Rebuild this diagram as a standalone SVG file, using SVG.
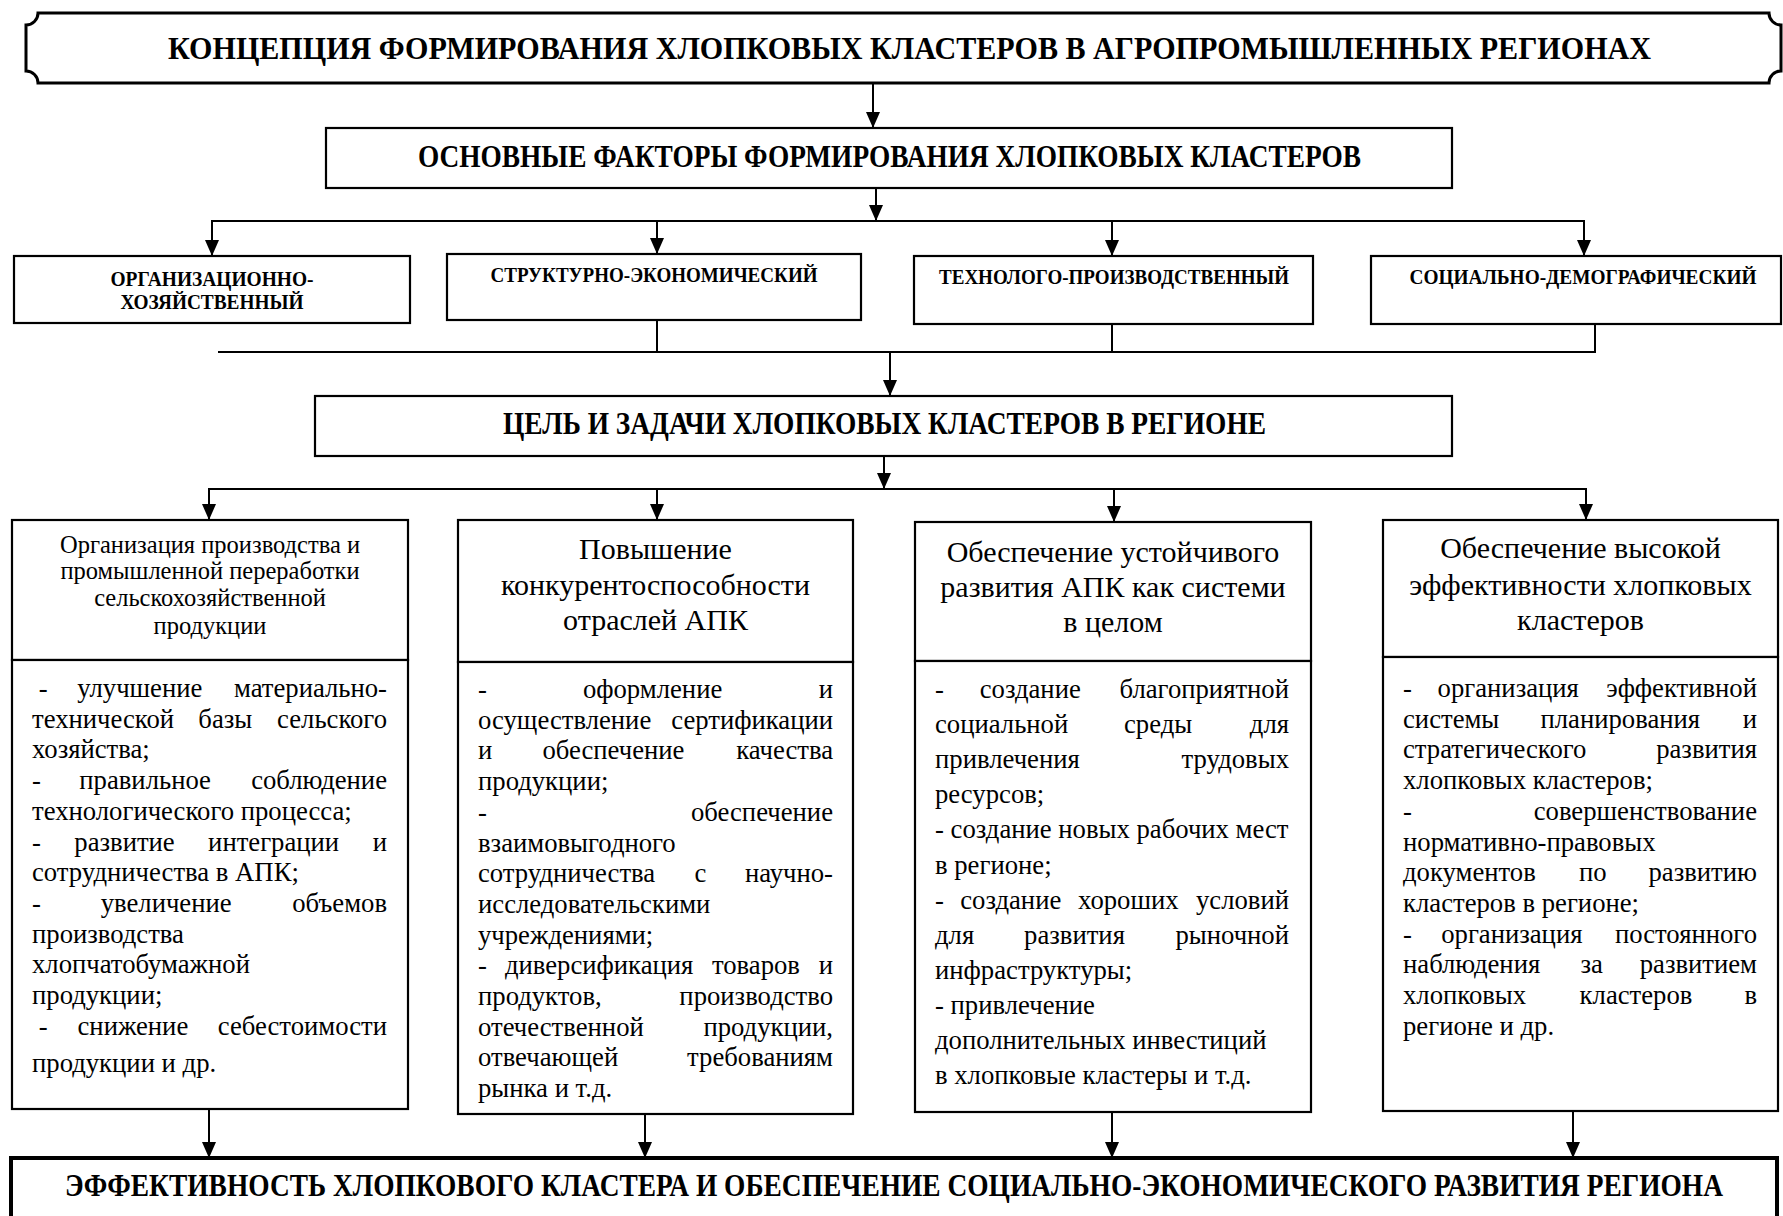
<svg xmlns="http://www.w3.org/2000/svg" width="1783" height="1216" viewBox="0 0 1783 1216">
<style>
.bx{fill:#fff;stroke:#000;stroke-width:2.2}
.ln{fill:none;stroke:#000;stroke-width:2}
.ar{fill:none;stroke:#000;stroke-width:2;marker-end:url(#ah)}
.H{font-family:"Liberation Serif","Times New Roman",serif;font-weight:bold;font-size:32px}
.F{font-family:"Liberation Serif","Times New Roman",serif;font-weight:bold;font-size:21px;text-anchor:middle}
.hd{font-family:"Liberation Serif","Times New Roman",serif;font-size:30px;text-anchor:middle}
.hs{font-family:"Liberation Serif","Times New Roman",serif;font-size:24.5px;text-anchor:middle}
.t{font-family:"Liberation Serif","Times New Roman",serif;font-size:26.7px}
.e{text-anchor:end}
</style>
<defs>
<marker id="ah" markerUnits="userSpaceOnUse" markerWidth="16" markerHeight="14" refX="16" refY="7" orient="auto">
<path d="M0,0 L16,7 L0,14 Z" fill="#000"/>
</marker>
</defs>
<rect width="1783" height="1216" fill="#fff"/>

<g id="connectors">
<line class="ar" x1="873" y1="83" x2="873" y2="128"/>
<line class="ar" x1="876" y1="188" x2="876" y2="221"/>
<line class="ln" x1="211" y1="221" x2="1585" y2="221"/>
<line class="ar" x1="212" y1="221" x2="212" y2="256"/>
<line class="ar" x1="657" y1="221" x2="657" y2="254"/>
<line class="ar" x1="1112" y1="221" x2="1112" y2="256"/>
<line class="ar" x1="1584" y1="221" x2="1584" y2="256"/>
<line class="ln" x1="657" y1="320" x2="657" y2="352"/>
<line class="ln" x1="1112" y1="324" x2="1112" y2="352"/>
<line class="ln" x1="1595" y1="324" x2="1595" y2="353"/>
<line class="ln" x1="218" y1="352" x2="1596" y2="352"/>
<line class="ar" x1="890" y1="352" x2="890" y2="396"/>
<line class="ar" x1="884" y1="456" x2="884" y2="489"/>
<line class="ln" x1="208" y1="489" x2="1587" y2="489"/>
<line class="ar" x1="209" y1="489" x2="209" y2="520"/>
<line class="ar" x1="657" y1="489" x2="657" y2="520"/>
<line class="ar" x1="1114" y1="489" x2="1114" y2="522"/>
<line class="ar" x1="1586" y1="489" x2="1586" y2="520"/>
<line class="ar" x1="209" y1="1109" x2="209" y2="1158"/>
<line class="ar" x1="645" y1="1114" x2="645" y2="1158"/>
<line class="ar" x1="1112" y1="1112" x2="1112" y2="1158"/>
<line class="ar" x1="1573" y1="1111" x2="1573" y2="1158"/>
</g>

<g id="title">
<path d="M38,13 H1769 A12,12 0 0 0 1781,25 V71 A12,12 0 0 0 1769,83 H38 A12,12 0 0 0 26,71 V25 A12,12 0 0 0 38,13 Z" fill="#fff" stroke="#000" stroke-width="3"/>
<text class="H" x="168" y="59" textLength="1483" lengthAdjust="spacingAndGlyphs">КОНЦЕПЦИЯ ФОРМИРОВАНИЯ ХЛОПКОВЫХ КЛАСТЕРОВ В АГРОПРОМЫШЛЕННЫХ РЕГИОНАХ</text>
</g>

<g id="factors">
<rect class="bx" x="326" y="128" width="1126" height="60"/>
<text class="H" x="418" y="167" textLength="943" lengthAdjust="spacingAndGlyphs">ОСНОВНЫЕ ФАКТОРЫ ФОРМИРОВАНИЯ ХЛОПКОВЫХ КЛАСТЕРОВ</text>
</g>

<g id="factor1">
<rect class="bx" x="14" y="256" width="396" height="67"/>
<text class="F" x="212" y="286" textLength="203" lengthAdjust="spacingAndGlyphs">ОРГАНИЗАЦИОННО-</text>
<text class="F" x="212" y="309" textLength="183" lengthAdjust="spacingAndGlyphs">ХОЗЯЙСТВЕННЫЙ</text>
</g>
<g id="factor2">
<rect class="bx" x="447" y="254" width="414" height="66"/>
<text class="F" x="654" y="282" textLength="327" lengthAdjust="spacingAndGlyphs">СТРУКТУРНО-ЭКОНОМИЧЕСКИЙ</text>
</g>
<g id="factor3">
<rect class="bx" x="914" y="256" width="399" height="68"/>
<text class="F" x="1114" y="284" textLength="350" lengthAdjust="spacingAndGlyphs">ТЕХНОЛОГО-ПРОИЗВОДСТВЕННЫЙ</text>
</g>
<g id="factor4">
<rect class="bx" x="1371" y="256" width="410" height="68"/>
<text class="F" x="1583" y="284" textLength="347" lengthAdjust="spacingAndGlyphs">СОЦИАЛЬНО-ДЕМОГРАФИЧЕСКИЙ</text>
</g>

<g id="goals">
<rect class="bx" x="315" y="396" width="1137" height="60"/>
<text class="H" x="503" y="434" textLength="763" lengthAdjust="spacingAndGlyphs">ЦЕЛЬ И ЗАДАЧИ ХЛОПКОВЫХ КЛАСТЕРОВ В РЕГИОНЕ</text>
</g>

<g id="col1">
<rect class="bx" x="12" y="520" width="396" height="140"/>
<rect class="bx" x="12" y="660" width="396" height="449"/>
<text class="hs" x="210" y="553">Организация производства и</text>
<text class="hs" x="210" y="579">промышленной переработки</text>
<text class="hs" x="210" y="606">сельскохозяйственной</text>
<text class="hs" x="210" y="634">продукции</text>
<g class="t">
<text y="697"><tspan x="38.7">-</tspan><tspan x="77.3">улучшение</tspan></text><text class="e" x="387" y="697">материально-</text>
<text y="727.7"><tspan x="32">технической</tspan><tspan x="198.3">базы</tspan></text><text class="e" x="387" y="727.7">сельского</text>
<text x="32" y="758.4">хозяйства;</text>
<text y="789.1"><tspan x="32">-</tspan><tspan x="79.3">правильное</tspan></text><text class="e" x="387" y="789.1">соблюдение</text>
<text x="32" y="819.8">технологического процесса;</text>
<text y="850.5"><tspan x="32">-</tspan><tspan x="74.3">развитие</tspan><tspan x="208.1">интеграции</tspan></text><text class="e" x="387" y="850.5">и</text>
<text x="32" y="881.2">сотрудничества в АПК;</text>
<text y="911.9"><tspan x="32">-</tspan><tspan x="100.7">увеличение</tspan></text><text class="e" x="387" y="911.9">объемов</text>
<text x="32" y="942.6">производства</text>
<text x="32" y="973.3">хлопчатобумажной</text>
<text x="32" y="1004">продукции;</text>
<text y="1034.7"><tspan x="38.7">-</tspan><tspan x="77.5">снижение</tspan></text><text class="e" x="387" y="1034.7">себестоимости</text>
<text x="32" y="1072">продукции и др.</text>
</g>
</g>

<g id="col2">
<rect class="bx" x="458" y="520" width="395" height="142"/>
<rect class="bx" x="458" y="662" width="395" height="452"/>
<text class="hd" x="655.5" y="559">Повышение</text>
<text class="hd" x="655.5" y="595">конкурентоспособности</text>
<text class="hd" x="655.5" y="630">отраслей АПК</text>
<g class="t">
<text y="698"><tspan x="478">-</tspan><tspan x="582.9">оформление</tspan></text><text class="e" x="833" y="698">и</text>
<text x="478" y="728.7">осуществление</text><text class="e" x="833" y="728.7">сертификации</text>
<text y="759.4"><tspan x="478">и</tspan><tspan x="542.4">обеспечение</tspan></text><text class="e" x="833" y="759.4">качества</text>
<text x="478" y="790.1">продукции;</text>
<text x="478" y="820.8">-</text><text class="e" x="833" y="820.8">обеспечение</text>
<text x="478" y="851.5">взаимовыгодного</text>
<text y="882.2"><tspan x="478">сотрудничества</tspan><tspan x="694.4">с</tspan></text><text class="e" x="833" y="882.2">научно-</text>
<text x="478" y="912.9">исследовательскими</text>
<text x="478" y="943.6">учреждениями;</text>
<text y="974.3"><tspan x="478">-</tspan><tspan x="504.9">диверсификация</tspan><tspan x="711.9">товаров</tspan></text><text class="e" x="833" y="974.3">и</text>
<text x="478" y="1005">продуктов,</text><text class="e" x="833" y="1005">производство</text>
<text x="478" y="1035.7">отечественной</text><text class="e" x="833" y="1035.7">продукции,</text>
<text x="478" y="1066.4">отвечающей</text><text class="e" x="833" y="1066.4">требованиям</text>
<text x="478" y="1097.1">рынка и т.д.</text>
</g>
</g>

<g id="col3">
<rect class="bx" x="915" y="522" width="396" height="139"/>
<rect class="bx" x="915" y="661" width="396" height="451"/>
<text class="hd" x="1113" y="562">Обеспечение устойчивого</text>
<text class="hd" x="1113" y="597">развития АПК как системи</text>
<text class="hd" x="1113" y="632">в целом</text>
<g class="t">
<text y="698"><tspan x="935">-</tspan><tspan x="979.7">создание</tspan></text><text class="e" x="1289" y="698">благоприятной</text>
<text y="733.1"><tspan x="935">социальной</tspan><tspan x="1124">среды</tspan></text><text class="e" x="1289" y="733.1">для</text>
<text x="935" y="768.2">привлечения</text><text class="e" x="1289" y="768.2">трудовых</text>
<text x="935" y="803.3">ресурсов;</text>
<text x="935" y="838.4">- создание новых рабочих мест</text>
<text x="935" y="873.5">в регионе;</text>
<text y="908.6"><tspan x="935">-</tspan><tspan x="960.2">создание</tspan><tspan x="1078.1">хороших</tspan></text><text class="e" x="1289" y="908.6">условий</text>
<text y="943.7"><tspan x="935">для</tspan><tspan x="1024.1">развития</tspan></text><text class="e" x="1289" y="943.7">рыночной</text>
<text x="935" y="978.8">инфраструктуры;</text>
<text x="935" y="1013.9">- привлечение</text>
<text x="935" y="1049">дополнительных инвестиций</text>
<text x="935" y="1084.1">в хлопковые кластеры и т.д.</text>
</g>
</g>

<g id="col4">
<rect class="bx" x="1383" y="520" width="395" height="137"/>
<rect class="bx" x="1383" y="657" width="395" height="454"/>
<text class="hd" x="1580.5" y="558">Обеспечение высокой</text>
<text class="hd" x="1580.5" y="595">эффективности хлопковых</text>
<text class="hd" x="1580.5" y="630">кластеров</text>
<g class="t">
<text y="697"><tspan x="1403">-</tspan><tspan x="1437.6">организация</tspan></text><text class="e" x="1757" y="697">эффективной</text>
<text y="727.7"><tspan x="1403">системы</tspan><tspan x="1540.5">планирования</tspan></text><text class="e" x="1757" y="727.7">и</text>
<text x="1403" y="758.4">стратегического</text><text class="e" x="1757" y="758.4">развития</text>
<text x="1403" y="789.1">хлопковых кластеров;</text>
<text x="1403" y="819.8">-</text><text class="e" x="1757" y="819.8">совершенствование</text>
<text x="1403" y="850.5">нормативно-правовых</text>
<text y="881.2"><tspan x="1403">документов</tspan><tspan x="1578.9">по</tspan></text><text class="e" x="1757" y="881.2">развитию</text>
<text x="1403" y="911.9">кластеров в регионе;</text>
<text y="942.6"><tspan x="1403">-</tspan><tspan x="1441.2">организация</tspan></text><text class="e" x="1757" y="942.6">постоянного</text>
<text y="973.3"><tspan x="1403">наблюдения</tspan><tspan x="1580.4">за</tspan></text><text class="e" x="1757" y="973.3">развитием</text>
<text y="1004"><tspan x="1403">хлопковых</tspan><tspan x="1579.6">кластеров</tspan></text><text class="e" x="1757" y="1004">в</text>
<text x="1403" y="1034.7">регионе и др.</text>
</g>
</g>

<g id="result">
<rect x="11" y="1158" width="1766" height="80" fill="#fff" stroke="#000" stroke-width="4"/>
<text class="H" x="65" y="1196" textLength="1658" lengthAdjust="spacingAndGlyphs">ЭФФЕКТИВНОСТЬ ХЛОПКОВОГО КЛАСТЕРА И ОБЕСПЕЧЕНИЕ СОЦИАЛЬНО-ЭКОНОМИЧЕСКОГО РАЗВИТИЯ РЕГИОНА</text>
</g>
</svg>
